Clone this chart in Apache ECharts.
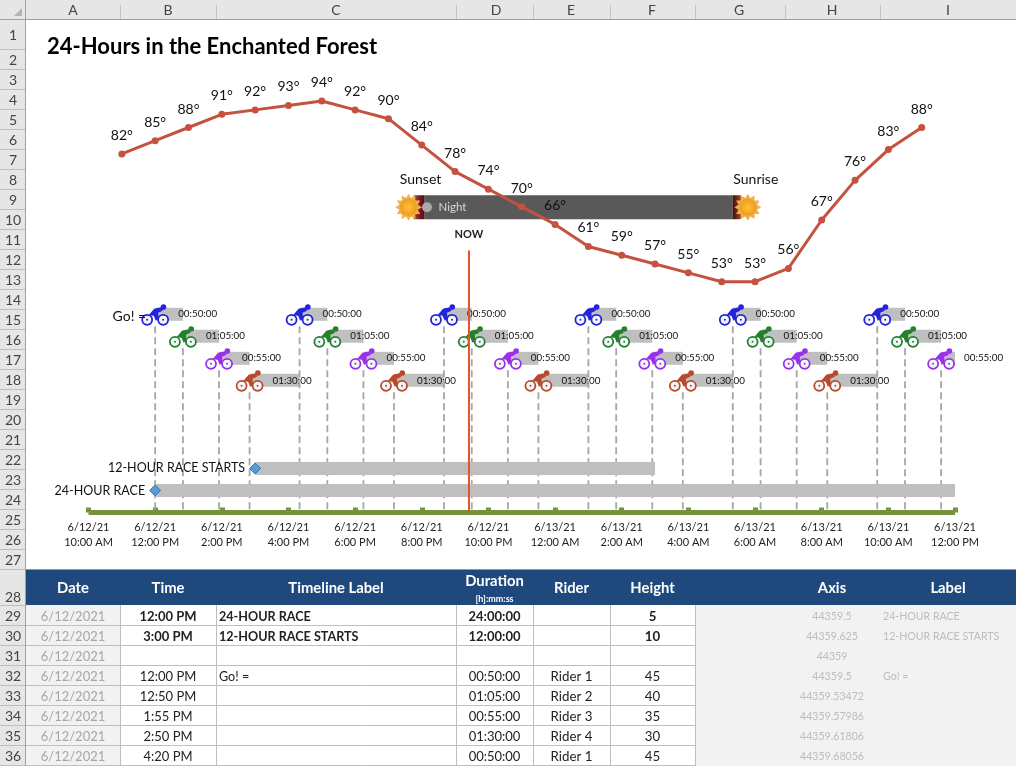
<!DOCTYPE html>
<html><head><meta charset="utf-8">
<style>html,body{margin:0;padding:0;background:#fff}#c{width:1016px;height:766px}</style>
<script src="https://cdn.jsdelivr.net/npm/echarts@6/dist/echarts.min.js"></script>
</head><body><div id="c"></div>
<script>
// ---- chart data (x values are minutes after 6/12/21 10:00 AM) ----
const titleText = '24-Hours in the Enchanted Forest';
const tickLabels = ['6/12/21\n10:00 AM','6/12/21\n12:00 PM','6/12/21\n2:00 PM','6/12/21\n4:00 PM','6/12/21\n6:00 PM','6/12/21\n8:00 PM','6/12/21\n10:00 PM','6/13/21\n12:00 AM','6/13/21\n2:00 AM','6/13/21\n4:00 AM','6/13/21\n6:00 AM','6/13/21\n8:00 AM','6/13/21\n10:00 AM','6/13/21\n12:00 PM'];
const tempMinutes = [60,120,180,240,300,360,420,480,540,600,660,720,780,840,900,960,1020,1080,1140,1200,1260,1320,1380,1440,1500];
const tempValues = [82,85,88,91,92,93,94,92,90,84,78,74,70,66,61,59,57,55,53,53,56,67,76,83,88];
const riderStarts = [120,170,235,290,380,430,495,550,640,690,755,810,900,950,1015,1070,1160,1210,1275,1330,1420,1470,1535];
const riderOrder = [0,1,2,3,0,1,2,3,0,1,2,3,0,1,2,3,0,1,2,3,0,1,2];
const riderDurations = [50,65,55,90];
const riderHeights = [45,40,35,30];
const riderDurationLabels = ['00:50:00','01:05:00','00:55:00','01:30:00'];
const riderColors = ['#2323DE','#23802B','#9A30EE','#B8492B'];
const raceStarts = [120,300];
const raceDurations = [1440,720];
const raceHeights = [5,10];
const raceLabels = ['24-HOUR RACE','12-HOUR RACE STARTS'];
const firstRiderLabel = 'Go! =';
const nightStart = 605, nightEnd = 1160, nightHeight = 69.3;
const nowMinute = 685, nowTop = 59.5;

// ---- worksheet data ----
const colEdges = [26,120,216,456,533,610,695,785,880,1016];
const colLetters = ['A','B','C','D','E','F','G','H','I'];
const colLetterCenters = [73,168,336,496,571,652,739,832,948];
const tableHeaders = ['Date','Time','Timeline Label','Duration','Rider','Height'];
const extraHeaders = ['Axis','Label'];
const dateCol = ['6/12/2021','6/12/2021','6/12/2021','6/12/2021','6/12/2021','6/12/2021','6/12/2021','6/12/2021'];
const timeCol = ['12:00 PM','3:00 PM','','12:00 PM','12:50 PM','1:55 PM','2:50 PM','4:20 PM'];
const labelCol = ['24-HOUR RACE','12-HOUR RACE STARTS','','Go! =','','','',''];
const durationCol = ['24:00:00','12:00:00','','00:50:00','01:05:00','00:55:00','01:30:00','00:50:00'];
const riderCol = ['','','','Rider 1','Rider 2','Rider 3','Rider 4','Rider 1'];
const heightCol = ['5','10','','45','40','35','30','45'];
const axisCol = ['44359.5','44359.625','44359','44359.5','44359.53472','44359.57986','44359.61806','44359.68056'];
const helperLabelCol = ['24-HOUR RACE','12-HOUR RACE STARTS','','Go! =','','','',''];

const F = 'Lato, "Noto Sans", sans-serif';
const els = [];
function rect(x,y,w,h,fill){els.push({type:'rect',silent:true,shape:{x,y,width:w,height:h},style:{fill}});}
function line(x1,y1,x2,y2,stroke){els.push({type:'line',silent:true,shape:{x1,y1,x2,y2},style:{stroke,lineWidth:1}});}
function text(t,x,y,font,fill,align){if(t==='')return;els.push({type:'text',silent:true,style:{text:t,x,y,font,fill,align:align||'center',verticalAlign:'middle'}});}

// sheet chrome
rect(0,0,1016,19,'#E6E6E6'); rect(0,0,25.5,766,'#E6E6E6');
els.push({type:'polygon',silent:true,shape:{points:[[22,8],[22,16],[14,16]]},style:{fill:'#B4B4B4'}});
line(0,19.5,1016,19.5,'#A0A0A0'); line(25.5,0,25.5,766,'#A0A0A0');
colLetters.forEach((c,i)=>{
  text(c,colLetterCenters[i],10,'14px '+F,'#444');
  if(i>0) line(colEdges[i]+.5,5,colEdges[i]+.5,19,'#C4C4C4');
});
const rowEdges=[19,49]; for(let r=2;r<=27;r++) rowEdges.push(rowEdges[r-1]+20);
rowEdges.push(605); for(let r=29;r<=36;r++) rowEdges.push(rowEdges[rowEdges.length-1]+20);
for(let r=1;r<=36;r++){
  const a=rowEdges[r-1],b=rowEdges[r];
  text(String(r),13,r===28?597:(a+b)/2+1,'14px '+F,'#444');
  line(0,b+.5,25,b+.5,'#BEBEBE');
}
// table
rect(26,569,990,36,'#1F497D');
line(26,569.5,1016,569.5,'#8A98A8');
rect(26,605,94,161,'#F2F2F2');
rect(695,605,321,161,'#F2F2F2');
for(let i=1;i<=8;i++) line(26,605+i*20+.5,695,605+i*20+.5,'#BFBFBF');
for(let i=1;i<=6;i++) line(colEdges[i]+.5,605,colEdges[i]+.5,766,'#BFBFBF');
tableHeaders.forEach((h,i)=>{
  const cx=(colEdges[i]+colEdges[i+1])/2;
  text(h,cx,h==='Duration'?581:588.5,'bold 14.8px '+F,'#fff');
});
text('[h]:mm:ss',(colEdges[3]+colEdges[4])/2,599,'bold 9px '+F,'#fff');
text(extraHeaders[0],832,588.5,'bold 14.8px '+F,'#fff');
text(extraHeaders[1],948,588.5,'bold 14.8px '+F,'#fff');
dateCol.forEach((d,i)=>{
  const y=616.5+i*20, b=i<2?'bold ':'';
  text(d,73,y,'13px '+F,'#A6A6A6');
  text(timeCol[i],168,y,b+'13px '+F,'#222');
  text(labelCol[i],219,y,b+'12.6px '+F,'#222','left');
  text(durationCol[i],494.5,y,b+'13px '+F,'#222');
  text(riderCol[i],571.5,y,'13.3px '+F,'#222');
  text(heightCol[i],652.5,y,b+'13.3px '+F,'#222');
  text(axisCol[i],832,y,'10.6px '+F,'#BDBDBD');
  text(helperLabelCol[i],883,y,'10.6px '+F,'#BDBDBD','left');
});

// glyphs
function bike(cx,cy,color){
  const c=[];
  [-8,8].forEach(dx=>{
    c.push({type:'circle',shape:{cx:cx+dx,cy:cy+5.5,r:5},style:{fill:'#F4F6FA',stroke:color,lineWidth:1.8}});
    c.push({type:'circle',shape:{cx:cx+dx,cy:cy+5.5,r:1},style:{fill:color}});
  });
  c.push({type:'polygon',shape:{points:[[-6.5,1],[-1,-5.5],[6,-7],[7.5,-3.5],[3,-1.5],[3.5,5],[0.5,6],[-1.5,1.5]].map(p=>[cx+p[0],cy+p[1]])},style:{fill:color}});
  c.push({type:'circle',shape:{cx:cx+8.3,cy:cy-7.3,r:2.8},style:{fill:color}});
  return c;
}
function sun(cx,cy){
  const pts=[]; const n=12;
  for(let k=0;k<n*2;k++){const r=k%2?9.5:13.5,a=k*Math.PI/n;pts.push([cx+r*Math.cos(a),cy+r*Math.sin(a)]);}
  return [
    {type:'polygon',shape:{points:pts},style:{fill:'#F2B04A'}},
    {type:'circle',shape:{cx,cy,r:8.5},style:{fill:new echarts.graphic.RadialGradient(0.5,0.5,0.5,[{offset:0,color:'#FBC23C'},{offset:1,color:'#F09A1E'}])}}
  ];
}

const option = {
  animation:false,
  backgroundColor:'#fff',
  textStyle:{fontFamily:F},
  title:{text:titleText,left:42,top:31,textStyle:{fontFamily:F,fontWeight:'bold',fontSize:22,color:'#000'}},
  grid:{left:88.5,right:61,top:72,bottom:253.5,containLabel:false},
  xAxis:{type:'value',min:0,max:1560,interval:120,splitLine:{show:false},
    axisLine:{show:true,onZero:false,lineStyle:{color:'#76923C',width:5,cap:'butt'}},
    axisTick:{show:true,inside:true,length:5,lineStyle:{color:'#76923C',width:5,cap:'butt'}},
    axisLabel:{show:true,margin:7,fontFamily:F,fontSize:11,lineHeight:15,color:'#222',hideOverlap:false,showMinLabel:true,showMaxLabel:true,
      formatter:v=>tickLabels[Math.round(v/120)]}},
  yAxis:[
    {type:'value',min:0,max:100,show:false,splitLine:{show:false}},
    {type:'value',min:0.6,max:100.6,show:false,splitLine:{show:false}}
  ],
  graphic:{elements:els},
  series:[
    {type:'custom',name:'Night',clip:false,z:2,silent:true,
     data:[[nightStart,nightEnd,nightHeight]],encode:{x:[0,1],y:2},
     renderItem(p,api){
       const a=api.coord([api.value(0),api.value(2)]),b=api.coord([api.value(1),api.value(2)]);
       const y=a[1],ch=[
        {type:'rect',shape:{x:a[0],y:y-12,width:b[0]-a[0],height:24},style:{fill:'#595959'}},
        {type:'rect',shape:{x:a[0]-11,y:y-12,width:11,height:24},style:{fill:new echarts.graphic.LinearGradient(0,0,1,0,[{offset:0,color:'#C0541E'},{offset:.5,color:'#7E1B2A'},{offset:1,color:'#4A0F12'}])}},
        {type:'rect',shape:{x:b[0],y:y-12,width:8,height:24},style:{fill:new echarts.graphic.LinearGradient(0,0,1,0,[{offset:0,color:'#3A0E0C'},{offset:1,color:'#B0471C'}])}},
        ...sun(a[0]-16,y),...sun(b[0]+15,y),
        {type:'circle',shape:{cx:a[0]+2.5,cy:y,r:5},style:{fill:'#A9A9A9'}},
        {type:'text',style:{text:'Night',x:a[0]+14,y,font:'11.5px '+F,fill:'#D9D9D9',align:'left',verticalAlign:'middle'}},
        {type:'text',style:{text:'Sunset',x:a[0]-4,y:y-28,font:'14px '+F,fill:'#111',align:'center',verticalAlign:'middle'}},
        {type:'text',style:{text:'Sunrise',x:b[0]+23,y:y-28,font:'14px '+F,fill:'#111',align:'center',verticalAlign:'middle'}}
       ];
       return {type:'group',children:ch};
     }},
    {type:'custom',name:'Riders',clip:false,z:3,silent:true,
     data:riderStarts.map((s,i)=>[s,Math.min(s+riderDurations[riderOrder[i]],1560),riderHeights[riderOrder[i]],riderOrder[i],i]),
     encode:{x:[0,1],y:2},
     renderItem(p,api){
       const s=api.coord([api.value(0),api.value(2)]),e=api.coord([api.value(1),api.value(2)]),z=api.coord([api.value(0),0]);
       const r=api.value(3),i=api.value(4),c=riderColors[r];
       const ch=[
        {type:'rect',shape:{x:s[0],y:s[1]-6.5,width:e[0]-s[0],height:13},style:{fill:'#BFBFBF'}},
        {type:'line',shape:{x1:s[0],y1:s[1]+12,x2:z[0],y2:z[1]-2},style:{stroke:'#A6A6A6',lineWidth:1.8,lineDash:[7,4]}},
        {type:'text',style:{text:riderDurationLabels[r],x:s[0]+23,y:s[1],font:'9.8px '+F,fill:'#111',align:'left',verticalAlign:'middle'}},
        ...bike(s[0],s[1],c)
       ];
       if(i===0) ch.push({type:'text',style:{text:firstRiderLabel,x:s[0]-9,y:s[1]+2,font:'14px '+F,fill:'#111',align:'right',verticalAlign:'middle'}});
       return {type:'group',children:ch};
     }},
    {type:'custom',name:'Races',clip:false,z:3,silent:true,
     data:raceStarts.map((s,i)=>[s,s+raceDurations[i],raceHeights[i],i]),encode:{x:[0,1],y:2},
     renderItem(p,api){
       const a=api.coord([api.value(0),api.value(2)]),b=api.coord([api.value(1),api.value(2)]);
       const y=a[1],x=a[0];
       return {type:'group',children:[
        {type:'rect',shape:{x,y:y-6.5,width:b[0]-x,height:13},style:{fill:'#BFBFBF'}},
        {type:'polygon',shape:{points:[[x,y-5.5],[x+5.5,y],[x,y+5.5],[x-5.5,y]]},style:{fill:'#5B9BD5',stroke:'#2E75B6',lineWidth:1}},
        {type:'text',style:{text:raceLabels[api.value(3)],x:x-10,y,font:'12.5px '+F,fill:'#111',align:'right',verticalAlign:'middle'}}
       ]};
     }},
    {type:'line',name:'Temperature',yAxisIndex:1,z:4,silent:true,
     data:tempMinutes.map((m,i)=>[m,tempValues[i]]),
     lineStyle:{color:'#C5513F',width:3},itemStyle:{color:'#C5513F'},symbol:'circle',symbolSize:7,showSymbol:true,showAllSymbol:true,
     label:{show:true,position:'top',distance:8,fontFamily:F,fontSize:14,color:'#111',formatter:p=>p.value[1]+'°'}},
    {type:'line',name:'Now',z:5,silent:true,symbol:'none',
     data:[[nowMinute,0],{value:[nowMinute,nowTop],symbol:'circle',symbolSize:1,label:{show:true,position:'top',distance:10,formatter:'NOW',fontFamily:F,fontWeight:'bold',fontSize:11,color:'#222'}}],
     lineStyle:{color:'#E2552B',width:2}}
  ]
};
const chart=echarts.init(document.getElementById('c'),null,{renderer:'canvas',width:1016,height:766});
chart.setOption(option);
</script></body></html>
